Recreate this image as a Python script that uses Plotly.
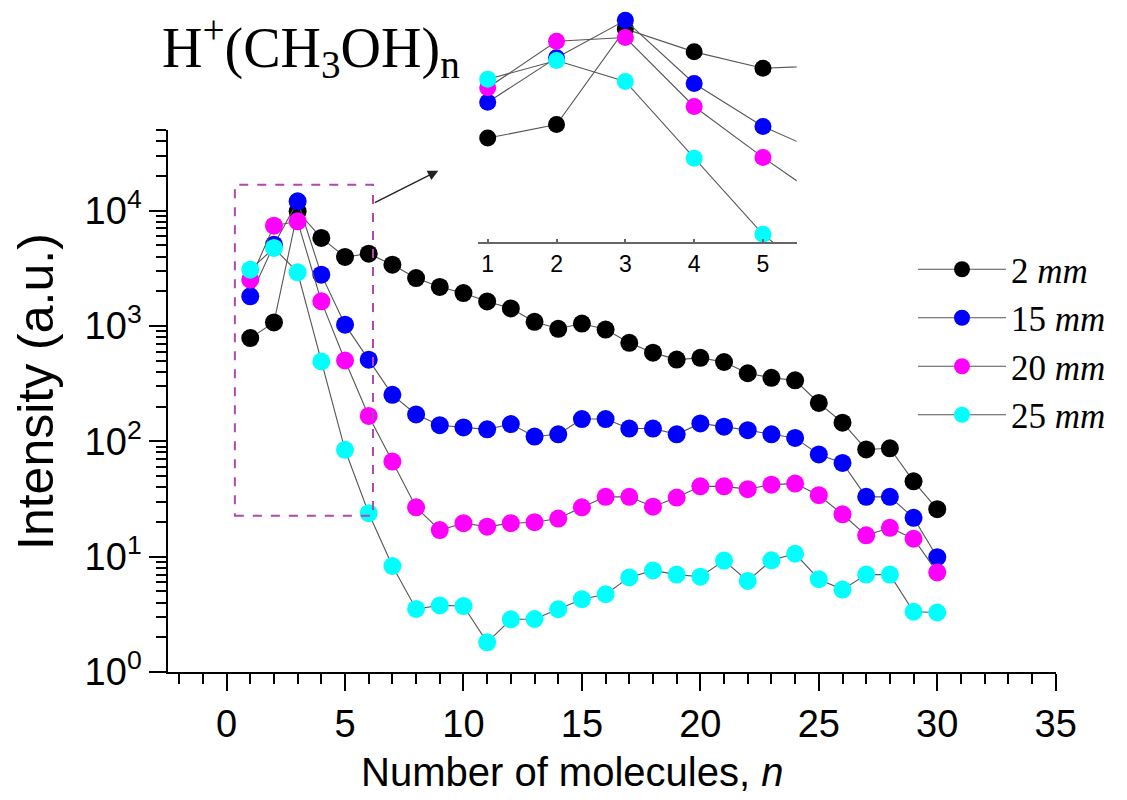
import plotly.graph_objects as go

# ---------------- data ----------------
n = list(range(1, 31))
series_names = ["2 <i>mm</i>", "15 <i>mm</i>", "20 <i>mm</i>", "25 <i>mm</i>"]
series_colors = ["#000000", "#0000FF", "#FF00FF", "#00FFFF"]
i_2mm = [786, 1074, 9860, 5800, 3966, 4237, 3400, 2600, 2180, 1928, 1631, 1420, 1087, 945, 1050,
         931, 714, 587, 511, 529, 487, 389, 355, 338, 215, 145, 85, 87, 45, 25.8]
i_15mm = [1806, 5070, 12050, 2785, 1026, 510, 253, 171, 138, 132, 127, 141, 110, 115, 156,
          156, 129, 129, 115, 143, 134, 125, 115, 107, 77, 65, 33, 33, 21.7, 9.9]
i_20mm = [2520, 7410, 8080, 1634, 502, 166, 66.8, 26.8, 17.0, 19.5, 18.2, 19.5, 19.9, 21.4, 26.8,
          33, 33, 27.1, 32.5, 40.7, 40.7, 38.5, 42.1, 43, 34.1, 23.3, 15.3, 17.8, 14.3, 7.3]
i_25mm = [3076, 4745, 2917, 492, 84.4, 23.8, 8.3, 3.52, 3.78, 3.73, 1.81, 2.86, 2.88, 3.5, 4.28,
          4.72, 6.61, 7.6, 6.99, 6.7, 9.24, 6.16, 9.3, 10.6, 6.38, 5.18, 6.99, 6.99, 3.33, 3.28]
series = [i_2mm, i_15mm, i_20mm, i_25mm]

y_tickvals = [1, 10, 100, 1000, 10000]
y_ticktext = ["10<sup>0</sup>", "10<sup>1</sup>", "10<sup>2</sup>", "10<sup>3</sup>", "10<sup>4</sup>"]
y_minor = [m * 10 ** d for d in range(0, 5) for m in range(2, 10) if m * 10 ** d <= 50000]
inset_ticks = [1, 2, 3, 4, 5]
inset_n_count = 6  # points used in the inset (lines run off the right edge)

x_title = "Number of molecules, <i>n</i>"
y_title = "Intensity (a.u.)"
chart_label = "H<sup>+</sup>(CH<sub>3</sub>OH)<sub>n</sub>"

# zoom box (data coords)
box_x = [0.35, 6.18]
box_y = [22.6, 16800]

W, H = 1127, 800
def px(x):
    return x / W
def py(y):
    return 1 - y / H

fig = go.Figure()

line_style = dict(color="#555555", width=1.1)
for name, col, vals in zip(series_names, series_colors, series):
    fig.add_trace(go.Scatter(
        x=n, y=vals, name=name, mode="lines+markers",
        line=line_style,
        marker=dict(color=col, size=18, line=dict(width=0)),
        xaxis="x", yaxis="y",
    ))

for name, col, vals in zip(series_names, series_colors, series):
    fig.add_trace(go.Scatter(
        x=n[:inset_n_count], y=vals[:inset_n_count], name=name, mode="lines+markers",
        line=line_style,
        marker=dict(color=col, size=17, line=dict(width=0)),
        xaxis="x2", yaxis="y2", showlegend=False,
    ))

sans = "Arial, Liberation Sans, sans-serif"
serif = "Liberation Serif, Times New Roman, serif"
axis_font = dict(family=sans, size=38, color="black")

fig.update_layout(
    width=W, height=H,
    margin=dict(l=0, r=0, t=0, b=0),
    paper_bgcolor="white", plot_bgcolor="white",
    showlegend=True,
    xaxis=dict(
        domain=[px(168.3), px(1055.7)], range=[-2.46, 35], anchor="y",
        showline=True, linecolor="black", linewidth=2, mirror=False,
        ticks="outside", ticklen=17, tickwidth=2, tickcolor="black",
        tick0=0, dtick=5, showgrid=False, zeroline=False,
        minor=dict(ticks="outside", ticklen=10, tickwidth=2, tickcolor="black", dtick=1, tick0=0, showgrid=False),
        tickfont=axis_font,
        automargin=False,
    ),
    yaxis=dict(
        type="log", domain=[py(672), py(130)], range=[0, 4.69897], anchor="x",
        showline=True, linecolor="black", linewidth=2,
        ticks="outside", ticklen=17, tickwidth=2, tickcolor="black",
        tickmode="array", tickvals=y_tickvals, ticktext=y_ticktext,
        minor=dict(tickmode="array", tickvals=y_minor, ticks="outside", ticklen=10, tickwidth=2, tickcolor="black", showgrid=False),
        showgrid=False, zeroline=False,
        tickfont=axis_font,
        automargin=False,
    ),
    xaxis2=dict(
        domain=[px(478), px(796.7)], range=[0.859, 5.49], anchor="y2",
        showline=True, linecolor="#666666", linewidth=1.5,
        ticks="inside", ticklen=4, tickwidth=1.5, tickcolor="#666666",
        tickmode="array", tickvals=inset_ticks,
        showgrid=False, zeroline=False,
        tickfont=dict(family=sans, size=23, color="black"),
        automargin=False,
    ),
    yaxis2=dict(
        type="log", domain=[py(242.3), py(8)], range=[1.846, 4.205], anchor="x2",
        visible=False, showgrid=False, zeroline=False,
    ),
    legend=dict(
        x=px(913), y=py(240), xanchor="left", yanchor="top",
        font=dict(family=serif, size=35, color="black"),
        itemwidth=88, bgcolor="rgba(0,0,0,0)", tracegroupgap=0,
    ),
    shapes=[dict(
        type="rect", xref="x", yref="y",
        x0=box_x[0], x1=box_x[1], y0=box_y[0], y1=box_y[1],
        line=dict(color="#B048B0", width=2, dash="dash"),
        fillcolor="rgba(0,0,0,0)",
    )],
    annotations=[
        dict(
            text=chart_label, xref="paper", yref="paper",
            x=px(160), y=py(47), xanchor="left", yanchor="middle", showarrow=False,
            font=dict(family=serif, size=56, color="black"),
        ),
        dict(
            text=x_title, xref="paper", yref="paper",
            x=px(572), y=py(772), xanchor="center", yanchor="middle", showarrow=False,
            font=dict(family=sans, size=40, color="black"),
        ),
        dict(
            text=y_title, xref="paper", yref="paper", textangle=-90,
            x=px(36), y=py(392), xanchor="center", yanchor="middle", showarrow=False,
            font=dict(family=sans, size=50, color="black"),
        ),
        dict(
            text="", xref="paper", yref="paper", x=px(438.3), y=py(170.7),
            ax=-65, ay=32.6, showarrow=True, arrowhead=2, arrowsize=1.6,
            arrowwidth=1.3, arrowcolor="#222222",
        ),
    ],
)

fig.write_html("out.html")
